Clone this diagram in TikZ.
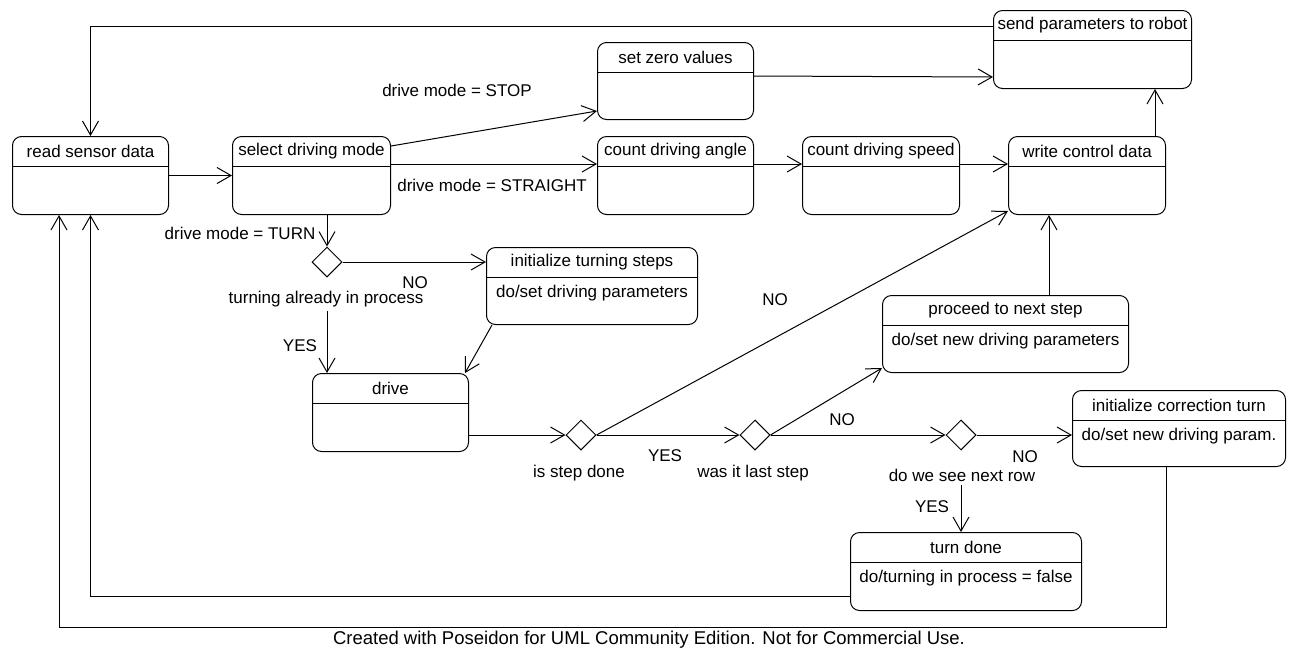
\documentclass[tikz,border=0pt]{standalone}
\usepackage{fontspec}
\setmainfont{Liberation Sans}
\usetikzlibrary{shapes.geometric,arrows.meta,positioning}

\tikzset{
  umlstate/.style={draw, rounded corners=9pt, anchor=north west, minimum height=78pt, inner sep=0pt,
    path picture={\draw ([yshift=-30pt]path picture bounding box.north west) -- ([yshift=-30pt]path picture bounding box.north east);}},
  headtxt/.style={anchor=north, minimum height=30pt, inner sep=0pt},
  bodytxt/.style={anchor=north, yshift=-31pt, minimum height=30pt, inner sep=0pt},
  decide/.style={draw, diamond, aspect=1, minimum size=30pt, inner sep=0pt},
}

\begin{document}
\begin{tikzpicture}[x=1pt, y=-1pt, >={Straight Barb[length=14pt,width=16pt]}, line width=1pt, font=\fontsize{17}{20}\selectfont]
\useasboundingbox (0,0) rectangle (1292,649);

% states
\node (read) at (12,136) [umlstate, minimum width=156pt, label={[headtxt]north:read sensor data}] {};
\node (select) at (232,136) [umlstate, minimum width=158pt, label={[headtxt]north:select driving mode}] {};
\node (zero) at (597,42) [umlstate, minimum width=156pt, minimum height=77pt, label={[headtxt]north:set zero values}] {};
\node (angle) at (597,136) [umlstate, minimum width=156pt, label={[headtxt]north:count driving angle}] {};
\node (speed) at (802,136) [umlstate, minimum width=157pt, label={[headtxt]north:count driving speed}] {};
\node (write) at (1008,136) [umlstate, minimum width=157pt, label={[headtxt]north:write control data}] {};
\node (send) at (993,10) [umlstate, minimum width=198pt, label={[headtxt]north:send parameters to robot}] {};
\node (steps) at (486,247) [umlstate, minimum width=211pt, minimum height=77pt, label={[headtxt]north:initialize turning steps}, label={[bodytxt]north:do/set driving parameters}] {};
\node (drive) at (312,373) [umlstate, minimum width=156pt, label={[headtxt]north:drive}] {};
\node (proceed) at (882,295) [umlstate, minimum width=246pt, minimum height=77pt, label={[headtxt]north:proceed to next step}, label={[bodytxt]north:do/set new driving parameters}] {};
\node (corr) at (1072,390) [umlstate, minimum width=213pt, minimum height=76pt, label={[headtxt]north:initialize correction turn}, label={[bodytxt]north:do/set new driving param.}] {};
\node (done) at (850,532) [umlstate, minimum width=231pt, label={[headtxt]north:turn done}, label={[bodytxt]north:do/turning in process = false}] {};

% decisions
\node (turnq) at (327,262) [decide] {};
\node (stepq) at (581,435) [decide] {};
\node (lastq) at (755,435) [decide] {};
\node (rowq) at (961,435) [decide] {};

% guards
\node (stoplbl) at (457,90) {drive mode = STOP};
\node (straightlbl) at (492,185) {drive mode = STRAIGHT};
\node (turnmodelbl) at (240,233) {drive mode = TURN};
\node (turnno) at (415,283) {NO};
\node (turnlbl) at (326,299) {turning already in process};
\node (turnyes) at (300,346) {YES};
\node (steplbl) at (579,473) {is step done};
\node (stepyes) at (665,456) {YES};
\node (stepno) at (775,300) {NO};
\node (lastlbl) at (753,473) {was it last step};
\node (lastno) at (842,420) {NO};
\node (rowlbl) at (962,475) {do we see next row};
\node (rowno) at (1025,457) {NO};
\node (rowyes) at (932,507) {YES};
\node (credit) at (649,640) [font=\fontsize{18.5}{20}\selectfont] {Created with Poseidon for UML Community Edition. Not for Commercial Use.};

% transitions
\draw [->] (read) -- (select);
\draw [->] ([yshift=-10pt]select.north east) -- ([yshift=9pt]zero.south west);
\draw [->] ([yshift=-28pt]select.north east) -- ([yshift=-28pt]angle.north west);
\draw [->] ([yshift=-28pt]angle.north east) -- ([yshift=-28pt]speed.north west);
\draw [->] ([yshift=-28pt]speed.north east) -- ([yshift=-28pt]write.north west);
\draw [->] ([yshift=-34pt]zero.north east) -- ([yshift=12pt]send.south west);
\draw [->] ([xshift=-11pt]write.north east) -- ([xshift=-37pt]send.south east);
\draw [->] ([yshift=-16pt]send.north west) -| (read.north);
\draw [->] (select.south -| turnq) -- (turnq.north);
\draw [->] (turnq.east) -- (turnq -| steps.west);
\draw [->] (turnq |- turnlbl.south) -- (turnq |- drive.north);
\draw [->] ([xshift=6pt]steps.south west) -- ([xshift=-4pt]drive.north east);
\draw [->] (stepq -| drive.east) -- (stepq.west);
\draw [->] (stepq.east) -- (lastq.west);
\draw [->] (stepq.east) -- ([yshift=4pt]write.south west);
\draw [->] (lastq.east) -- (rowq.west);
\draw [->] (lastq.east) -- ([yshift=5pt]proceed.south west);
\draw [->] (rowq.east) -- (rowq -| corr.west);
\draw [->] (rowq |- rowlbl.south) -- (rowq |- done.north);
\coordinate (pw) at ([xshift=41pt]write.south west);
\draw [->] (pw |- proceed.north) -- (pw);
\draw [->] ([yshift=-64pt]done.north west) -| (read.south);
\coordinate (loopbase) at (59,627);
\draw [->] ([xshift=-13pt]corr.south) |- (loopbase) -- (loopbase |- read.south);
\end{tikzpicture}
\end{document}
